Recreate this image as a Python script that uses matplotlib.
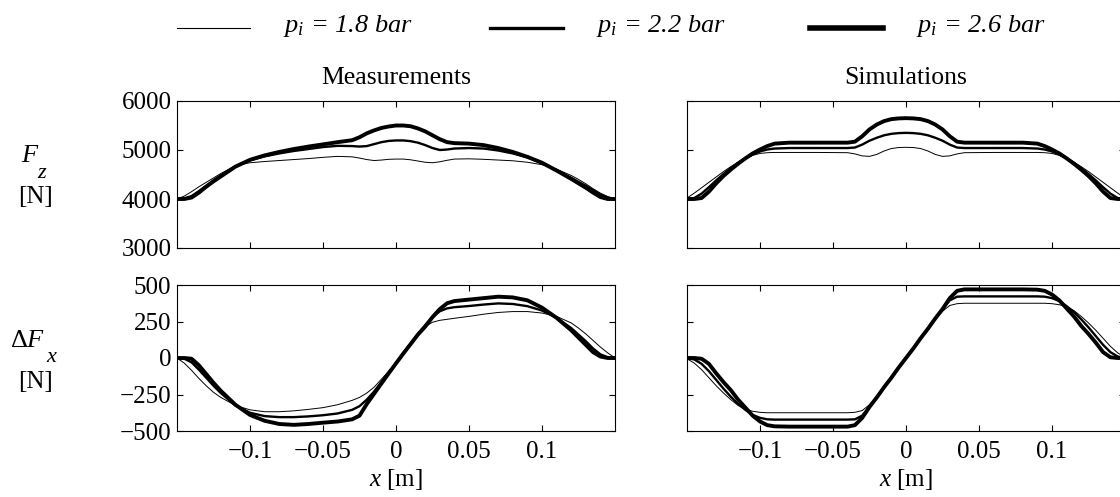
import matplotlib
matplotlib.use("Agg")
import matplotlib.pyplot as plt
from matplotlib.lines import Line2D

plt.rcParams['font.family'] = ['Liberation Serif', 'DejaVu Serif']
plt.rcParams['mathtext.fontset'] = 'custom'
plt.rcParams['mathtext.rm'] = 'Liberation Serif'
plt.rcParams['mathtext.it'] = 'Liberation Serif:italic'
plt.rcParams['mathtext.bf'] = 'Liberation Serif:bold'

# pressures and styling per series
pressures = ["1.8", "2.2", "2.6"]
widths = [0.7, 1.7, 2.8]
legend_widths = [0.8, 2.4, 4.0]

# ---- measurements ----
x_meas = [-0.15, -0.145, -0.14, -0.135, -0.13, -0.125, -0.12, -0.11, -0.1, -0.09,
          -0.08, -0.07, -0.06, -0.05, -0.04, -0.03, -0.025, -0.02, -0.015, -0.01,
          -0.005, 0, 0.005, 0.01, 0.015, 0.02, 0.025, 0.03, 0.035, 0.04,
          0.05, 0.06, 0.07, 0.08, 0.09, 0.1, 0.11, 0.12, 0.125, 0.13,
          0.135, 0.14, 0.145, 0.15]

fz_meas_18 = [4000, 4060, 4150, 4250, 4340, 4430, 4520, 4680, 4740, 4765,
              4785, 4805, 4825, 4850, 4870, 4860, 4835, 4805, 4785, 4795,
              4810, 4815, 4815, 4800, 4775, 4750, 4740, 4760, 4790, 4815,
              4820, 4810, 4795, 4780, 4750, 4700, 4610, 4480, 4400, 4310,
              4210, 4120, 4050, 4000]
fz_meas_22 = [4000, 4010, 4060, 4160, 4270, 4380, 4480, 4670, 4790, 4870,
              4930, 4980, 5020, 5060, 5085, 5080, 5070, 5080, 5120, 5160,
              5185, 5195, 5195, 5180, 5150, 5100, 5040, 5000, 5010, 5030,
              5040, 5030, 4990, 4930, 4850, 4730, 4590, 4430, 4350, 4270,
              4180, 4090, 4030, 4000]
fz_meas_26 = [4000, 4000, 4030, 4130, 4250, 4360, 4460, 4660, 4800, 4890,
              4960, 5020, 5070, 5115, 5160, 5200, 5260, 5340, 5400, 5450,
              5480, 5500, 5500, 5485, 5440, 5380, 5300, 5220, 5160, 5140,
              5130, 5100, 5040, 4960, 4860, 4740, 4580, 4410, 4320, 4230,
              4130, 4040, 4000, 4000]

dfx_meas_18 = [0, -35, -85, -140, -190, -235, -270, -325, -355, -368,
               -368, -362, -352, -340, -320, -290, -270, -240, -200, -145,
               -90, -35, 30, 95, 160, 215, 245, 258, 265, 272,
               285, 300, 312, 318, 318, 308, 285, 240, 205, 165,
               120, 75, 35, 0]
dfx_meas_22 = [0, -5, -30, -80, -135, -190, -240, -325, -375, -398,
               -405, -405, -400, -392, -380, -355, -330, -285, -230, -165,
               -100, -35, 35, 100, 165, 225, 280, 320, 340, 348,
               356, 366, 374, 370, 355, 325, 275, 205, 160, 115,
               65, 25, 5, 0]
dfx_meas_26 = [0, 0, -5, -50, -110, -170, -225, -320, -390, -430,
               -452, -458, -452, -443, -435, -420, -395, -315, -245, -175,
               -105, -37, 30, 95, 160, 215, 280, 335, 375, 390,
               400, 410, 420, 415, 395, 345, 275, 190, 140, 90,
               40, 10, 0, 0]

# ---- simulations ----
x_sim = [-0.15, -0.145, -0.14, -0.135, -0.13, -0.125, -0.12, -0.115, -0.11, -0.105,
         -0.1, -0.095, -0.09, -0.08, -0.06, -0.04, -0.035, -0.03, -0.025, -0.02,
         -0.015, -0.01, -0.005, 0, 0.005, 0.01, 0.015, 0.02, 0.025, 0.03,
         0.035, 0.04, 0.06, 0.08, 0.09, 0.095, 0.1, 0.105, 0.11, 0.115,
         0.12, 0.125, 0.13, 0.135, 0.14, 0.145, 0.15]

fz_sim_18 = [4020, 4120, 4230, 4340, 4450, 4560, 4660, 4750, 4830, 4890,
             4930, 4945, 4950, 4950, 4950, 4945, 4920, 4880, 4870, 4910,
             4980, 5030, 5050, 5055, 5050, 5030, 4980, 4910, 4870, 4880,
             4920, 4945, 4950, 4950, 4950, 4945, 4930, 4890, 4830, 4750,
             4660, 4560, 4450, 4340, 4230, 4120, 4020]
fz_sim_22 = [4000, 4020, 4110, 4240, 4380, 4510, 4630, 4740, 4830, 4910,
             4970, 5010, 5030, 5040, 5040, 5040, 5050, 5110, 5190, 5250,
             5300, 5330, 5345, 5350, 5345, 5330, 5300, 5250, 5190, 5110,
             5050, 5040, 5040, 5040, 5030, 5010, 4970, 4910, 4830, 4740,
             4630, 4510, 4380, 4240, 4110, 4020, 4000]
fz_sim_26 = [4000, 4000, 4020, 4150, 4320, 4470, 4600, 4720, 4830, 4930,
             5010, 5080, 5130, 5150, 5150, 5150, 5170, 5280, 5420, 5520,
             5590, 5630, 5645, 5650, 5645, 5630, 5590, 5520, 5420, 5280,
             5170, 5150, 5150, 5150, 5130, 5080, 5010, 4930, 4830, 4720,
             4600, 4470, 4320, 4150, 4020, 4000, 4000]

dfx_sim_18 = [-5, -35, -80, -135, -190, -240, -285, -325, -350, -365,
              -372, -375, -375, -375, -375, -375, -372, -360, -320, -265,
              -200, -135, -65, 0, 65, 135, 200, 265, 320, 360,
              372, 375, 375, 375, 375, 375, 372, 365, 350, 325,
              285, 240, 190, 135, 80, 35, 5]
dfx_sim_22 = [0, -10, -40, -90, -150, -210, -265, -315, -355, -390,
              -410, -420, -422, -422, -422, -422, -420, -395, -335, -270,
              -200, -135, -65, 0, 65, 135, 200, 270, 335, 395,
              420, 422, 422, 422, 422, 420, 410, 390, 355, 315,
              265, 210, 150, 90, 40, 10, 0]
dfx_sim_26 = [0, 0, -5, -40, -105, -165, -220, -285, -340, -395,
              -435, -460, -468, -470, -470, -470, -460, -410, -335, -270,
              -200, -135, -65, 0, 65, 135, 200, 270, 335, 410,
              460, 470, 470, 470, 468, 460, 435, 395, 340, 285,
              220, 165, 105, 40, 5, 0, 0]

panels = [
    (x_meas, [fz_meas_18, fz_meas_22, fz_meas_26]),
    (x_sim, [fz_sim_18, fz_sim_22, fz_sim_26]),
    (x_meas, [dfx_meas_18, dfx_meas_22, dfx_meas_26]),
    (x_sim, [dfx_sim_18, dfx_sim_22, dfx_sim_26]),
]

fig = plt.figure(figsize=(11.2, 4.97), dpi=100)
W, H = 1120, 497
lefts = [177, 687]
tops = [101, 285]
heights = [147, 146]
axw = 438

axes = []
for r in range(2):
    for c in range(2):
        ax = fig.add_axes([lefts[c] / W, 1 - (tops[r] + heights[r]) / H, axw / W, heights[r] / H])
        axes.append(ax)

for ax, (xv, series) in zip(axes, panels):
    for yv, lw in zip(series, widths):
        ax.plot(xv, yv, color='black', lw=lw, solid_joinstyle='round', solid_capstyle='round')
    ax.set_xlim(-0.15, 0.15)
    ax.set_xticks([-0.1, -0.05, 0, 0.05, 0.1])
    ax.tick_params(direction='in', top=True, right=True, length=4, width=0.8,
                   labelsize=18, pad=4)
    ax.tick_params(axis='x', pad=7)
    for s in ax.spines.values():
        s.set_linewidth(0.8)

for ax in axes[:2]:
    ax.set_ylim(3000, 6000)
    ax.set_yticks([3000, 4000, 5000, 6000])
    ax.set_xticklabels([])
for ax in axes[2:]:
    ax.set_ylim(-500, 500)
    ax.set_yticks([-500, -250, 0, 250, 500])
    ax.set_xticklabels(['\u22120.1', '\u22120.05', '0', '0.05', '0.1'])
    ax.set_xlabel(r'$x$ [m]', fontsize=18, labelpad=3)
for ax in [axes[1], axes[3]]:
    ax.set_yticklabels([])
axes[2].set_yticklabels(['\u2212500', '\u2212250', '0', '250', '500'])

axes[0].set_title('Measurements', fontsize=18.5, pad=12)
axes[1].set_title('Simulations', fontsize=18.5, pad=12)

# y labels
fig.text(30 / W, 1 - 156 / H, r'$F$', fontsize=19, ha='center', va='center')
fig.text(42 / W, 1 - 173 / H, r'$z$', fontsize=16, ha='center', va='center')
fig.text(35 / W, 1 - 197 / H, '[N]', fontsize=18, ha='center', va='center')
fig.text(28 / W, 1 - 341 / H, r'$\Delta F$', fontsize=19, ha='center', va='center')
fig.text(52 / W, 1 - 358 / H, r'$x$', fontsize=16, ha='center', va='center')
fig.text(35 / W, 1 - 382 / H, '[N]', fontsize=18, ha='center', va='center')

# legend drawn across the top
leg_x = [177, 490, 810]
for lx, p, lw in zip(leg_x, pressures, legend_widths):
    fig.add_artist(Line2D([lx / W, (lx + 73) / W], [1 - 28 / H, 1 - 28 / H],
                          color='black', lw=lw, transform=fig.transFigure))
    fig.text((lx + 106) / W, 1 - 26 / H, r'$\mathit{p_i}$' + ' = ' + p + ' bar',
             fontsize=19, style='italic', ha='left', va='center')

fig.savefig('out.png', dpi=100)
